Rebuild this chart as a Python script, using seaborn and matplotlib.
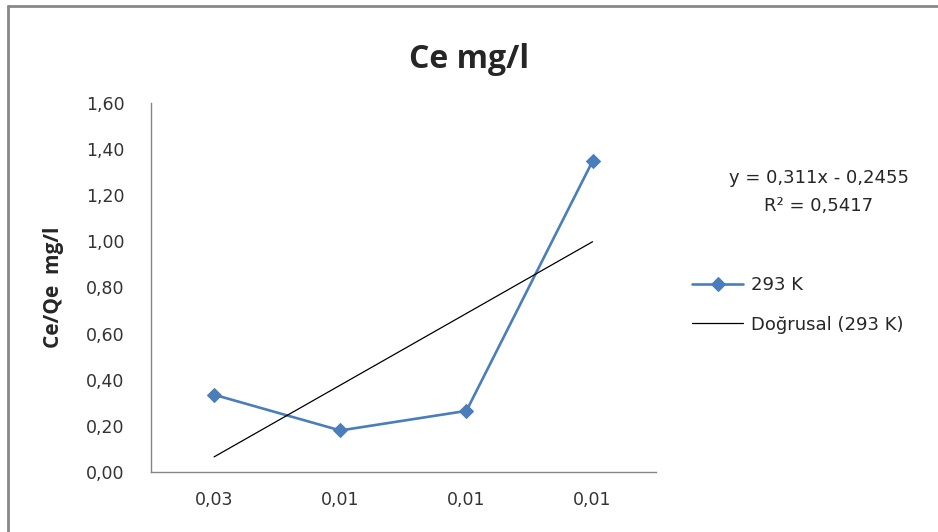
import numpy as np
import pandas as pd
import seaborn as sns
import matplotlib
matplotlib.use("Agg")
import matplotlib.pyplot as plt
from matplotlib.lines import Line2D

# data
categories = ["0,03", "0,01", "0,01", "0,01"]
ce_qe = [0.335, 0.18, 0.265, 1.348]
slope = 0.311
intercept = -0.2455
r2 = 0.5417
yticks = [0.0, 0.2, 0.4, 0.6, 0.8, 1.0, 1.2, 1.4, 1.6]

sns.set_style("white")
plt.rcParams['font.family'] = ['DejaVu Sans']
bold_font = ['Open Sans', 'DejaVu Sans']

df = pd.DataFrame({"pos": np.arange(len(categories)), "val": ce_qe})
# Excel linear trendline uses x = 1..n
df["trend"] = slope * (df["pos"] + 1) + intercept

fig = plt.figure(figsize=(9.38, 5.32), dpi=100)
ax = fig.add_axes([0.161, 0.1128, 0.538, 0.6936])

sns.lineplot(data=df, x="pos", y="val", ax=ax, color="#4a7ebb", linewidth=1.9,
             marker="D", markersize=7.5, markeredgecolor="#4a7ebb", label="293 K")
sns.lineplot(data=df, x="pos", y="trend", ax=ax, color="black", linewidth=0.9,
             label="Doğrusal (293 K)")

ax.set_xlim(-0.5, 3.5)
ax.set_ylim(0, 1.6)
ax.set_xticks(df["pos"])
ax.set_xticklabels(categories)
ax.set_yticks(yticks)
ax.set_yticklabels([f"{v:.2f}".replace(".", ",") for v in yticks])
ax.tick_params(axis="both", labelsize=12.5, length=0, colors="#333333")
ax.tick_params(axis="x", pad=14)
ax.tick_params(axis="y", pad=19)
for s in ["top", "right"]:
    ax.spines[s].set_visible(False)
for s in ["left", "bottom"]:
    ax.spines[s].set_color("#868686")
    ax.spines[s].set_linewidth(1)

ax.set_xlabel("")
ax.set_ylabel("Ce/Qe  mg/l", fontsize=15, fontweight="bold", family=bold_font, labelpad=16)
fig.text(0.5, 0.872, "Ce mg/l", ha="center", va="baseline", fontsize=23,
         fontweight="bold", family=bold_font)

fig.text(0.873, 0.665, f"y = {slope:.3f}x - {abs(intercept):.4f}".replace(".", ","),
         ha="center", va="center", fontsize=13)
fig.text(0.873, 0.613, f"R² = {r2:.4f}".replace(".", ","),
         ha="center", va="center", fontsize=13)

ax.legend(loc="center left", bbox_to_anchor=(0.738, 0.427), bbox_transform=fig.transFigure,
          frameon=False, fontsize=13, handlelength=2.8, labelspacing=1.2,
          handletextpad=0.45, borderpad=0, borderaxespad=0)

# outer chart border (top and left edges visible)
fig.add_artist(Line2D([0.009, 1.0], [0.9896, 0.9896], color="#888888", linewidth=2,
                      transform=fig.transFigure))
fig.add_artist(Line2D([0.009, 0.009], [0.0, 0.9896], color="#888888", linewidth=2,
                      transform=fig.transFigure))

fig.savefig("out.png", dpi=100)
